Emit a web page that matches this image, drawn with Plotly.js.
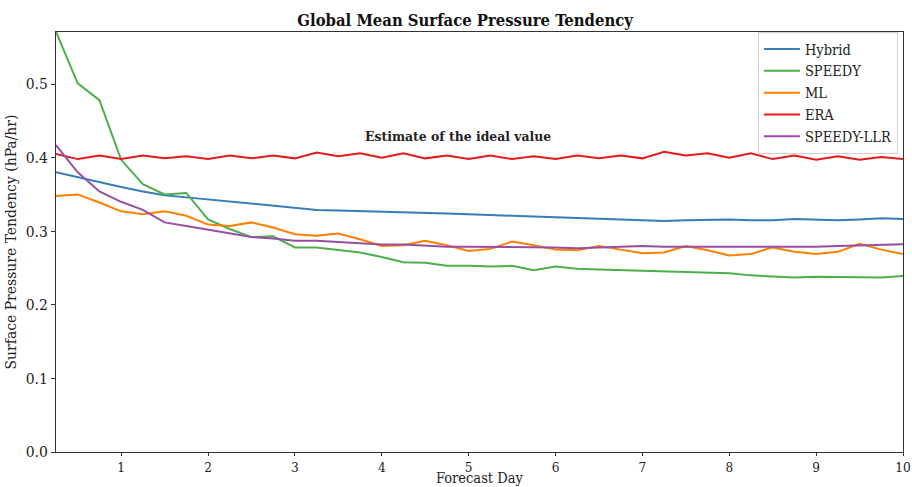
<!DOCTYPE html>
<html>
<head>
<meta charset="utf-8">
<script src="https://cdn.plot.ly/plotly-3.0.1.min.js"></script>
<style>html,body{margin:0;padding:0;background:#fff;}#chart{width:912px;height:487px;}</style>
</head>
<body>
<div id="chart"></div>
<script>
const days = [0.25,0.5,0.75,1,1.25,1.5,1.75,2,2.25,2.5,2.75,3,3.25,3.5,3.75,4,4.25,4.5,4.75,5,
  5.25,5.5,5.75,6,6.25,6.5,6.75,7,7.25,7.5,7.75,8,8.25,8.5,8.75,9,9.25,9.5,9.75,10];

const hybrid = [0.380,0.373,0.366,0.360,0.354,0.349,0.346,0.343,0.340,0.337,0.335,0.332,0.329,0.328,0.327,0.326,0.325,0.324,0.324,0.323,
  0.3225,0.321,0.320,0.319,0.317,0.316,0.316,0.315,0.314,0.315,0.316,0.316,0.315,0.315,0.3166,0.316,0.315,0.316,0.3175,0.3166];

const speedy = [0.571,0.501,0.478,0.397,0.364,0.350,0.352,0.316,0.303,0.292,0.293,0.278,0.278,0.275,0.271,0.265,0.258,0.257,0.253,0.253,
  0.252,0.253,0.247,0.252,0.249,0.248,0.247,0.246,0.245,0.244,0.243,0.243,0.240,0.239,0.237,0.238,0.238,0.238,0.237,0.239];

const ml = [0.348,0.350,0.339,0.327,0.323,0.327,0.321,0.309,0.307,0.312,0.305,0.296,0.294,0.297,0.289,0.280,0.281,0.287,0.281,0.273,
  0.276,0.286,0.281,0.275,0.274,0.280,0.275,0.270,0.271,0.280,0.274,0.267,0.269,0.278,0.272,0.269,0.272,0.283,0.275,0.269];

const era = [0.405,0.398,0.403,0.398,0.403,0.399,0.402,0.398,0.403,0.399,0.403,0.399,0.407,0.402,0.406,0.400,0.406,0.399,0.403,0.398,
  0.403,0.398,0.402,0.398,0.403,0.399,0.403,0.399,0.408,0.403,0.406,0.400,0.406,0.398,0.403,0.397,0.402,0.397,0.401,0.398];

const llr = [0.417,0.380,0.354,0.340,0.329,0.312,0.307,0.302,0.296,0.292,0.290,0.287,0.287,0.285,0.283,0.282,0.282,0.280,0.279,0.279,
  0.279,0.279,0.278,0.278,0.277,0.278,0.279,0.280,0.279,0.279,0.2785,0.2785,0.2785,0.278,0.279,0.279,0.280,0.281,0.2817,0.2822];

const seriesNames = ['Hybrid','SPEEDY','ML','ERA','SPEEDY-LLR'];
const seriesColors = ['#377eb8','#4daf4a','#ff7f00','#e41a1c','#984ea3'];
const seriesData = [hybrid, speedy, ml, era, llr];

const xTicks = [1,2,3,4,5,6,7,8,9,10];
const yTicks = [0.0,0.1,0.2,0.3,0.4,0.5];

const FONT = '"DejaVu Serif Condensed", "DejaVu Serif", serif';

const traces = seriesData.map((ys, i) => ({
  x: days, y: ys, type: 'scatter', mode: 'lines', name: seriesNames[i],
  line: {color: seriesColors[i], width: 2}
}));

const layout = {
  width: 912, height: 487,
  margin: {l: 56, r: 9, t: 32, b: 35},
  paper_bgcolor: '#fff', plot_bgcolor: '#fff',
  font: {family: FONT, size: 15.5, color: '#222'},
  title: {text: '<b>Global Mean Surface Pressure Tendency</b>', font: {family: FONT, size: 16.5, color: '#111'},
          x: 0.51, xanchor: 'center', y: 0.97, yanchor: 'top'},
  xaxis: {
    range: [0.25, 10], tickvals: xTicks, ticktext: xTicks.map(String),
    showgrid: false, zeroline: false, showline: true, mirror: true, linecolor: '#333', linewidth: 1,
    ticks: 'outside', ticklen: 3, tickcolor: '#333', tickfont: {size: 13.5}
  },
  yaxis: {
    range: [0, 0.5707], tickvals: yTicks, ticktext: yTicks.map(v => v.toFixed(1)),
    showgrid: false, zeroline: false, showline: true, mirror: true, linecolor: '#333', linewidth: 1,
    ticks: 'outside', ticklen: 4, tickcolor: '#333', tickfont: {size: 15.5},
    title: {text: 'Surface Pressure Tendency (hPa/hr)', font: {family: FONT, size: 15.5}, standoff: 5}
  },
  legend: {
    x: 0.994, xanchor: 'right', y: 1.0, yanchor: 'top',
    bgcolor: 'rgba(255,255,255,0.9)', bordercolor: '#d0d0d0', borderwidth: 1,
    font: {family: FONT, size: 14.5}, tracegroupgap: 0, itemwidth: 36
  },
  annotations: [{
    x: 4.88, y: 0.429, xref: 'x', yref: 'y', showarrow: false,
    text: '<b>Estimate of the ideal value</b>', font: {family: FONT, size: 13.8, color: '#222'}
  }, {
    x: 0.5, y: -0.0833, xref: 'paper', yref: 'paper', xanchor: 'center', yanchor: 'bottom',
    showarrow: false, borderpad: 0,
    text: 'Forecast Day', font: {family: FONT, size: 14.5, color: '#222'}
  }]
};

Plotly.newPlot('chart', traces, layout, {displayModeBar: false, staticPlot: true});
</script>
</body>
</html>
